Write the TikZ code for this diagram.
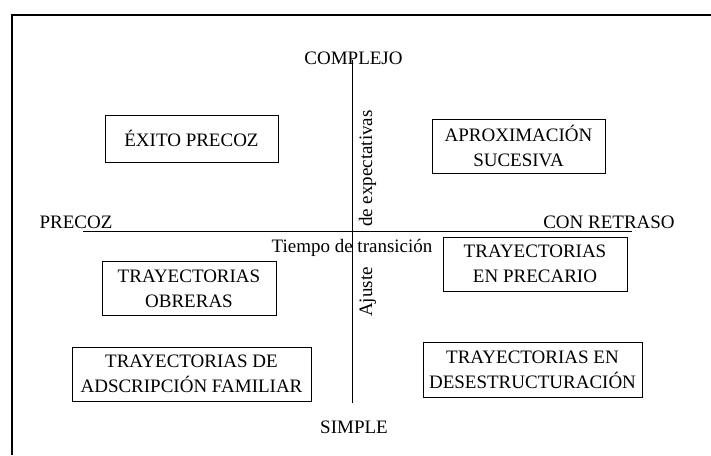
\documentclass[tikz,border=0pt]{standalone}
\usepackage{fontspec}
\setmainfont{Liberation Serif}
\usetikzlibrary{arrows}

\begin{document}
\begin{tikzpicture}[x=1pt,y=-1pt,
	every node/.style={inner sep=0pt,font=\fontsize{19}{25}\selectfont},
	caja/.style={draw,line width=0.8pt,align=center,minimum height=54pt},
	eje/.style={line width=1pt}]
	\useasboundingbox (0,0) rectangle (711,455);
	\draw [line width=1.5pt](12,455)--(12,15)--(711,15);
	\node (0) [caja,minimum width=173pt,minimum height=47pt] at (191.5,138.5) {ÉXITO PRECOZ};
	\node (1) [caja,minimum width=173pt] at (518.5,146) {APROXIMACIÓN\\SUCESIVA};
	\node (2) [caja,minimum width=174pt] at (189,288.5) {TRAYECTORIAS\\OBRERAS};
	\node (3) [caja,minimum width=239pt] at (191.5,374) {TRAYECTORIAS DE\\ADSCRIPCIÓN FAMILIAR};
	\node (4) [caja,minimum width=184pt] at (535,264) {TRAYECTORIAS\\EN PRECARIO};
	\node (5) [caja,minimum width=219pt,minimum height=55pt] at (532.5,369.5) {TRAYECTORIAS EN\\DESESTRUCTURACIÓN};
	\coordinate (6) at (83,231);
	\coordinate (7) at (632,231);
	\coordinate (8) at (352,60);
	\coordinate (9) at (352,403);
	\node (10) [anchor=base] at (353.5,64) {COMPLEJO};
	\node (11) [anchor=base] at (354,433) {SIMPLE};
	\node (12) [anchor=base] at (76,228) {PRECOZ};
	\node (13) [anchor=base] at (609,228) {CON RETRASO};
	\node (14) [anchor=base] at (352,252) {Tiempo de transición};
	\node (15) [rotate=90,anchor=base west] at (372,227) {de expectativas};
	\node (16) [rotate=90,anchor=base west] at (372,317) {Ajuste};
	\draw [-,>=latex,eje](6)--(7);
	\draw [-,>=latex,eje](8)--(9);
\end{tikzpicture}
\end{document}
